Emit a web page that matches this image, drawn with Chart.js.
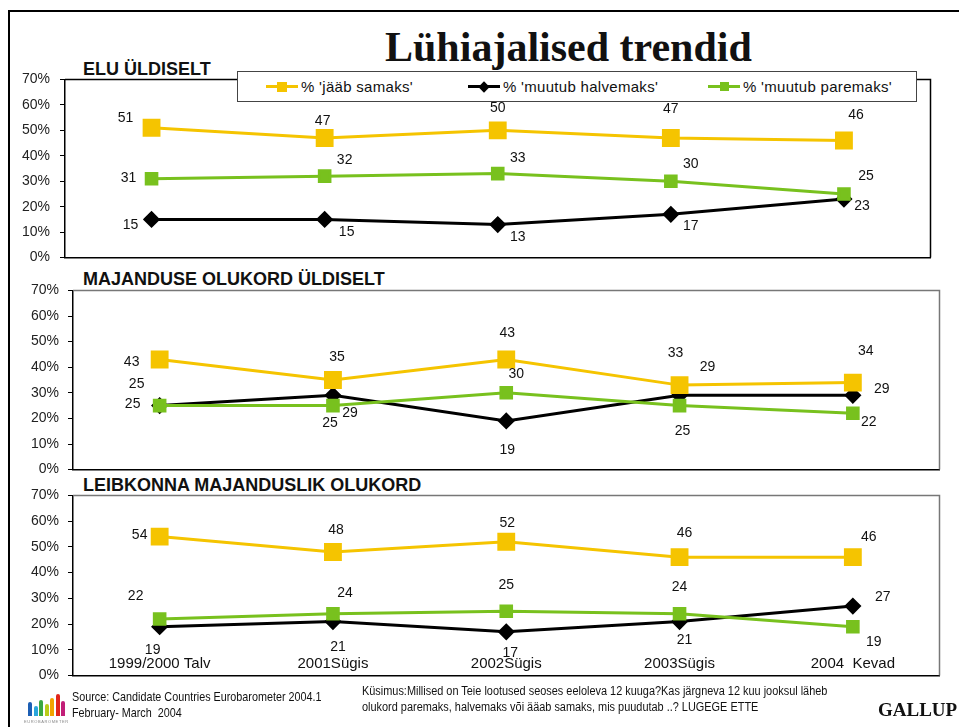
<!DOCTYPE html>
<html>
<head>
<meta charset="utf-8">
<script src="https://cdn.jsdelivr.net/npm/chart.js@4.4.1/dist/chart.umd.min.js"></script>
<style>
  body { margin: 0; width: 959px; height: 727px; background: #fff; position: relative; overflow: hidden;
         font-family: 'Liberation Sans', Arial, sans-serif; color: #111; }
  .abs { position: absolute; white-space: nowrap; line-height: 1; }
  .frame { position: absolute; left: 8px; top: 10px; width: 960px; height: 730px;
           border-left: 2px solid #000; border-top: 2px solid #000; }
  .title { font-family: 'Liberation Serif', 'Times New Roman', serif; font-weight: bold; font-size: 42px; }
  .ptitle { font-weight: bold; font-size: 18px; }
  .box { position: absolute; }
  .legend { position: absolute; left: 237px; top: 71px; width: 678px; height: 29px; border: 1px solid #444;
            background: #fff; z-index: 5; }
  .leg-text { font-size: 15px; letter-spacing: 0.3px; }
  .narrow { transform-origin: 0 0; }
</style>
</head>
<body>
<div class="frame"></div>

<div class="abs title" style="left:385px; top:26px;">Lühiajalised trendid</div>

<div class="abs ptitle" style="left:83px; top:60px;">ELU ÜLDISELT</div>
<div class="abs ptitle" style="left:83px; top:270px;">MAJANDUSE OLUKORD ÜLDISELT</div>
<div class="abs ptitle" style="left:83px; top:476px;">LEIBKONNA MAJANDUSLIK OLUKORD</div>

<div class="box" style="left:0; top:61px; width:944px; height:215px;"><canvas id="c1"></canvas></div>
<div class="box" style="left:0; top:273px; width:953px; height:214px;"><canvas id="c2"></canvas></div>
<div class="box" style="left:0; top:478px; width:953px; height:215px;"><canvas id="c3"></canvas></div>

<div class="legend" id="legend"></div>

<!-- logo -->
<div id="logo" class="box" style="left:24px; top:684px; width:48px; height:40px;"></div>

<div class="abs narrow" style="left:72px; top:690px; font-size:13px; transform:scaleX(0.83);">Source: Candidate Countries Eurobarometer 2004.1</div>
<div class="abs narrow" style="left:72px; top:706px; font-size:13px; transform:scaleX(0.83);">February- March&nbsp; 2004</div>
<div class="abs narrow" style="left:362px; top:685px; font-size:12px; transform:scaleX(0.91);">Küsimus:Millised on Teie lootused seoses eeloleva 12 kuuga?Kas järgneva 12 kuu jooksul läheb</div>
<div class="abs narrow" style="left:362px; top:701px; font-size:12px; transform:scaleX(0.91);">olukord paremaks, halvemaks või ääab samaks, mis puudutab ..? LUGEGE ETTE</div>
<div class="abs" style="left:878px; top:700px; font-family:'Liberation Serif',serif; font-weight:bold; font-size:19px;">GALLUP</div>

<script>
// andmed
const categories = ['1999/2000 Talv', '2001Sügis', '2002Sügis', '2003Sügis', '2004  Kevad'];
const seriesNames = ["% 'jääb samaks'", "% 'muutub halvemaks'", "% 'muutub paremaks'"];
const yTickLabels = ['0%', '10%', '20%', '30%', '40%', '50%', '60%', '70%'];

const eluSamaks = [51, 47, 50, 47, 46];
const eluHalvemaks = [15, 15, 13, 17, 23];
const eluParemaks = [31, 32, 33, 30, 25];

const majSamaks = [43, 35, 43, 33, 34];
const majHalvemaks = [25, 29, 19, 29, 29];
const majParemaks = [25, 25, 30, 25, 22];

const leibSamaks = [54, 48, 52, 46, 46];
const leibHalvemaks = [19, 21, 17, 21, 27];
const leibParemaks = [22, 24, 25, 24, 19];

// väärtuste siltide nihked (dx, dy) markeri suhtes
const eluOffsets = [
  [[-26, -10], [-2, -17], [0, -22], [0, -29], [12, -25]],
  [[-21, 6], [22, 13], [20, 13], [20, 12], [18, 7]],
  [[-23, -1], [20, -16], [20, -15], [20, -17], [22, -18]]
];
const majOffsets = [
  [[-28, 3], [4, -23], [1, -26], [-4, -32], [13, -31]],
  [[-23, -21], [17, 18], [1, 29], [28, -28], [29, -6]],
  [[-27, -1], [-3, 18], [10, -19], [3, 26], [16, 9]]
];
const leibOffsets = [
  [[-20, -1], [3, -22], [1, -19], [5, -24], [16, -20]],
  [[-7, 23], [5, 26], [4, 21], [5, 19], [30, -9]],
  [[-24, -23], [12, -21], [0, -26], [0, -27], [21, 15]]
];

const YELLOW = '#F5C400';
const BLACK = '#000000';
const GREEN = '#78C11E';
const FONT = "'Liberation Sans', Arial, sans-serif";

// raam ümber joonise ala (üla- ja parem serv)
const framePlugin = {
  id: 'frame',
  beforeDatasetsDraw(chart, args, opts) {
    const { ctx, chartArea: a } = chart;
    ctx.save();
    ctx.strokeStyle = opts.color;
    ctx.lineWidth = 1.5;
    ctx.beginPath();
    ctx.moveTo(a.left, a.top);
    ctx.lineTo(a.right, a.top);
    ctx.lineTo(a.right, a.bottom);
    ctx.stroke();
    ctx.restore();
  }
};

// väärtuste sildid ja kategooriate nimed
const labelPlugin = {
  id: 'labels',
  afterDatasetsDraw(chart, args, opts) {
    const { ctx } = chart;
    ctx.save();
    ctx.fillStyle = '#111';
    ctx.textAlign = 'center';
    ctx.textBaseline = 'middle';
    ctx.font = '14px ' + FONT;
    chart.data.datasets.forEach((ds, di) => {
      const meta = chart.getDatasetMeta(di);
      meta.data.forEach((pt, i) => {
        const off = opts.offsets[di][i];
        ctx.fillText(String(ds.data[i]), pt.x + off[0], pt.y + off[1]);
      });
    });
    if (opts.showCategories) {
      const xs = chart.scales.x;
      ctx.font = '15px ' + FONT;
      chart.data.labels.forEach((lab, i) => {
        ctx.fillText(lab, xs.getPixelForValue(i), chart.chartArea.bottom - 12);
      });
    }
    ctx.restore();
  }
};

function makePanel(id, samaks, halvemaks, paremaks, offsets, axisWidth, tickPad, frameColor, showCategories) {
  return new Chart(document.getElementById(id), {
    type: 'line',
    data: {
      labels: categories,
      datasets: [
        { label: seriesNames[0], data: samaks, borderColor: YELLOW, backgroundColor: YELLOW,
          borderWidth: 3, pointStyle: 'rect', pointRadius: 10.5, order: 0 },
        { label: seriesNames[1], data: halvemaks, borderColor: BLACK, backgroundColor: BLACK,
          borderWidth: 3, pointStyle: 'rectRot', pointRadius: 6.5, order: 2 },
        { label: seriesNames[2], data: paremaks, borderColor: GREEN, backgroundColor: GREEN,
          borderWidth: 3, pointStyle: 'rect', pointRadius: 7.5, order: 1 }
      ]
    },
    options: {
      responsive: true,
      maintainAspectRatio: false,
      animation: false,
      layout: { padding: { top: 10, bottom: 10, left: 2, right: 7 } },
      elements: { line: { tension: 0 }, point: { borderWidth: 0, hoverRadius: 0 } },
      plugins: {
        legend: { display: false },
        tooltip: { enabled: false },
        frame: { color: frameColor },
        labels: { offsets: offsets, showCategories: showCategories }
      },
      scales: {
        x: {
          offset: true,
          grid: { display: false },
          border: { display: true, color: '#000', width: 1.5 },
          ticks: { display: false },
          afterFit(scale) { scale.height = 0; }
        },
        y: {
          min: 0,
          max: 70,
          ticks: {
            stepSize: 10,
            padding: tickPad,
            color: '#222',
            font: { family: FONT, size: 14 },
            callback: (v, i) => yTickLabels[i]
          },
          grid: { drawOnChartArea: false, drawTicks: true, tickLength: 5, color: '#000' },
          border: { display: true, color: '#000', width: 1.5 },
          afterFit(scale) { scale.width = axisWidth; }
        }
      }
    },
    plugins: [framePlugin, labelPlugin]
  });
}

makePanel('c1', eluSamaks, eluHalvemaks, eluParemaks, eluOffsets, 63, 10, '#000', false);
makePanel('c2', majSamaks, majHalvemaks, majParemaks, majOffsets, 71, 9, '#777', false);
makePanel('c3', leibSamaks, leibHalvemaks, leibParemaks, leibOffsets, 71, 9, '#777', true);

// legend
const legendItems = [
  { name: seriesNames[0], color: YELLOW, shape: 'square', size: 10, x: 28 },
  { name: seriesNames[1], color: BLACK, shape: 'diamond', size: 8, x: 230 },
  { name: seriesNames[2], color: GREEN, shape: 'square', size: 9, x: 470 }
];
const legend = document.getElementById('legend');
legendItems.forEach(it => {
  const line = document.createElement('div');
  line.style.cssText = `position:absolute;left:${it.x}px;top:13px;width:32px;height:3px;background:${it.color}`;
  legend.appendChild(line);
  const mk = document.createElement('div');
  const rot = it.shape === 'diamond' ? 'transform:rotate(45deg);' : '';
  mk.style.cssText = `position:absolute;left:${it.x + 16 - it.size / 2}px;top:${14.5 - it.size / 2}px;` +
    `width:${it.size}px;height:${it.size}px;background:${it.color};${rot}`;
  legend.appendChild(mk);
  const tx = document.createElement('div');
  tx.className = 'abs leg-text';
  tx.style.left = (it.x + 35) + 'px';
  tx.style.top = '7px';
  tx.textContent = it.name;
  legend.appendChild(tx);
});

// logo
const logoBars = [
  ['#1d5fb4', 18], ['#2aa6dc', 14], ['#3aa843', 20], ['#b9cc1a', 16],
  ['#f2a400', 22], ['#e1261c', 26], ['#c21f78', 19]
];
const logo = document.getElementById('logo');
logoBars.forEach((b, i) => {
  const bar = document.createElement('div');
  bar.style.cssText = `position:absolute;left:${4 + i * 5.5}px;bottom:8px;width:4px;height:${b[1] - 6}px;background:${b[0]}`;
  logo.appendChild(bar);
  const dot = document.createElement('div');
  dot.style.cssText = `position:absolute;left:${4 + i * 5.5}px;bottom:${b[1] - 0}px;width:4px;height:4px;border-radius:2px;background:${b[0]}`;
  logo.appendChild(dot);
});
const logoText = document.createElement('div');
logoText.className = 'abs';
logoText.style.cssText += 'left:0px;bottom:0px;font-size:4px;letter-spacing:0.6px;color:#888;';
logoText.textContent = 'EUROBAROMETER';
logo.appendChild(logoText);
</script>
</body>
</html>
